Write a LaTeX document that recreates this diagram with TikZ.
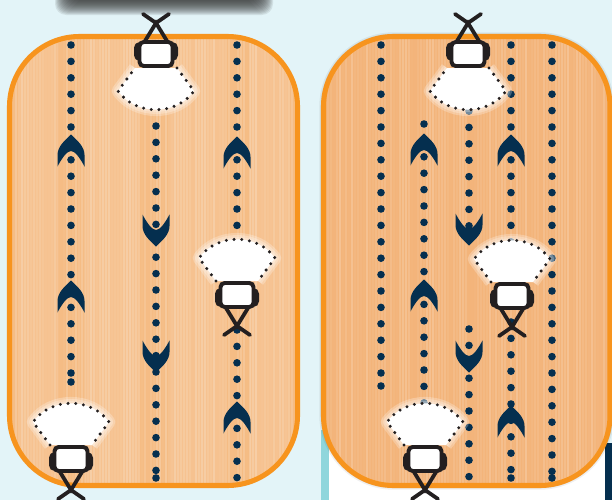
\documentclass[tikz,border=0pt]{standalone}
\definecolor{skybg}{HTML}{E3F4F8}
\definecolor{stripcyan}{HTML}{8FD6DC}
\definecolor{navy}{HTML}{052F4F}
\definecolor{rimorange}{HTML}{F7941E}
\definecolor{woodleft}{HTML}{F5BC84}
\definecolor{woodright}{HTML}{F3B47A}
\definecolor{tvdark}{HTML}{231F20}
\tikzset{
  panel/.style={rounded corners=1.75cm},
  rim/.style={panel, draw=rimorange, line width=3.6pt},
  rundot/.style={fill=navy},
  fanedge/.style={draw=tvdark, line width=2.4pt, line cap=round, dash pattern=on 0pt off 5.5pt},
  tv/.pic={
    \foreach \glow in {9,6,3}
      \draw[white, opacity=.25, line width=\glow pt, line join=round]
        (-21,-14) -- (-38,-37) .. controls (-20,-62) and (20,-62) .. (38,-37) -- (21,-14);
    \fill[white] (-21,-14) -- (-38,-37) .. controls (-20,-62) and (20,-62) .. (38,-37) -- (21,-14) -- cycle;
    \path[fanedge] (-21,-14) -- (-38,-37) .. controls (-20,-62) and (20,-62) .. (38,-37) -- (21,-14);
    \draw[tvdark, line width=2.7pt, line cap=round] (-11,13) -- (0,31) -- (11,13);
    \draw[tvdark, line width=2.7pt, line cap=round] (-13,40) -- (0,31) -- (13,40);
    \fill[tvdark, rounded corners=4pt] (-22,-7) rectangle (22,12);
    \draw[tvdark, fill=white, line width=2.8pt, rounded corners=3pt] (-16.5,-12) rectangle (16.5,12);
  },
  chevron/.pic={
    \fill[navy] (0,-15.5) .. controls (7,-9) and (13.5,-3) .. (13.5,5) -- (13.5,16.5)
      .. controls (9,8) and (4,1) .. (0,1) .. controls (-4,1) and (-9,8) .. (-13.5,16.5)
      -- (-13.5,5) .. controls (-13.5,-3) and (-7,-9) .. (0,-15.5) -- cycle;
  },
}
\begin{document}
\begin{tikzpicture}[x=0.025cm,y=-0.025cm]
\useasboundingbox (0,0) rectangle (612,500);
\fill[skybg] (0,0) rectangle (612,500);
\fill[stripcyan] (321,430) rectangle (329,500);
\fill[white] (329,430) rectangle (605,500);
\fill[navy] (605,443) rectangle (612,500);
% shadow at the top edge
\foreach \grow in {0,1,...,17}
  \fill[black!80, opacity=.1, rounded corners=8pt] ({72-\grow},-20) rectangle ({256+\grow},{-2+\grow});
% shadow of the right board
\foreach \grow in {6,4,2}
  \draw[black, opacity=.06, line width=\grow pt, panel] (323.5,36.5) rectangle (610,485.5);
% boards
\fill[woodleft, panel] (9.5,36.5) rectangle (297.5,485.5);
\fill[woodright, panel] (323.5,36.5) rectangle (610,485.5);
\begin{scope}
\clip[panel] (9.5,36.5) rectangle (297.5,485.5) (323.5,36.5) rectangle (610,485.5);
\pgfmathsetseed{7}
\foreach \sx in {0,3,...,612} {
  \pgfmathsetmacro{\so}{rnd*.2}
  \fill[white, opacity=\so] (\sx,30) rectangle ++(1.6,460);
}
\foreach \bandl/\bandr in {20/58,85/140,170/225,250/290}
  \fill[white, opacity=.1] (\bandl,30) rectangle (\bandr,490);
\end{scope}
\draw[rim] (9.5,36.5) rectangle (297.5,485.5);
\draw[rim] (323.5,36.5) rectangle (610,485.5);
% dotted runs: x / first y / last index
\foreach \cx/\cy/\cn in {71/45/20,156/126/21,237/45/11,237/330/9,
    381/45/20,424/124/17,469/111/7,469/329/9,511/45/12,511/322/9,552/45/26}
  \foreach \k in {0,...,\cn}
    \fill[rundot] (\cx,{\cy+\k*16.4}) circle (3.8);
\foreach \cx/\cy in {71/382,156/478,381/386,511/478,552/478}
  \fill[rundot] (\cx,\cy) circle (3.8);
% cameras
\pic[rotate=180] at (156,54) {tv};
\pic at (237,295) {tv};
\pic at (71,459) {tv};
\pic[rotate=180] at (468,54) {tv};
\pic at (512,296) {tv};
\pic at (425,459) {tv};
% direction marks
\foreach \cx/\cy in {71/150,71/296,237/152,237/417,424/149,424/295,511/150,511/421}
  \pic at (\cx,\cy) {chevron};
\foreach \cx/\cy in {156/231,156/357,469/230,469/357}
  \pic[rotate=180] at (\cx,\cy) {chevron};
\end{tikzpicture}
\end{document}
